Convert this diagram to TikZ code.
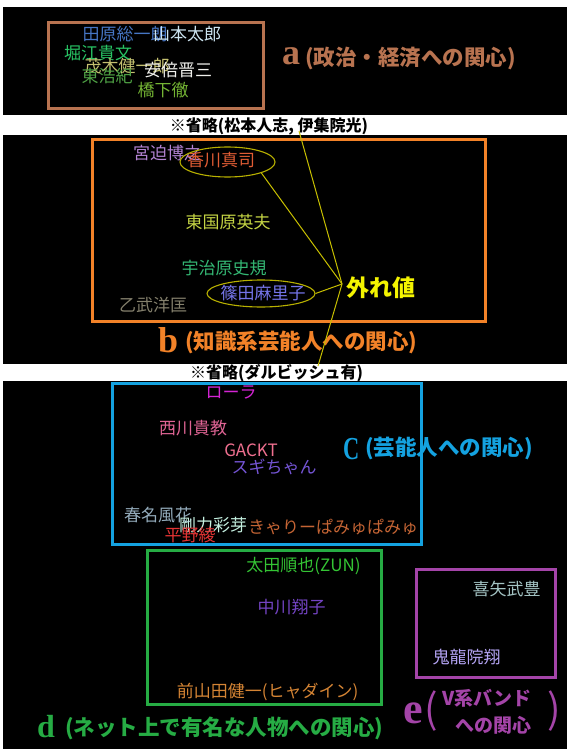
\documentclass[tikz,border=0pt]{standalone}
\usepackage{fontspec}
\newfontfamily\jp{Noto Sans CJK JP}
\newfontfamily\ser{Liberation Serif}
\usetikzlibrary{shapes.geometric}
\newcommand\myfs[1]{\fontsize{#1}{#1}\selectfont}
\definecolor{cA}{HTML}{B87350}
\definecolor{cB}{HTML}{F28228}
\definecolor{cC}{HTML}{14A2E0}
\definecolor{cD}{HTML}{26AC44}
\definecolor{cE}{HTML}{A444A8}
\definecolor{cLine}{HTML}{C8C000}
\definecolor{cEll}{HTML}{B8B000}
\definecolor{cOut}{HTML}{F4F400}
\definecolor{cTahara}{HTML}{4676C4}
\definecolor{cYama}{HTML}{CCE4F0}
\definecolor{cHorie}{HTML}{28C464}
\definecolor{cMogi}{HTML}{C4C070}
\definecolor{cAbe}{HTML}{F0F0EC}
\definecolor{cAzuma}{HTML}{4EA044}
\definecolor{cHashi}{HTML}{74B434}
\definecolor{cMiya}{HTML}{B484D4}
\definecolor{cKagawa}{HTML}{E05C34}
\definecolor{cHiga}{HTML}{C4D444}
\definecolor{cUji}{HTML}{34B874}
\definecolor{cShino}{HTML}{7474E8}
\definecolor{cOto}{HTML}{84806C}
\definecolor{cRola}{HTML}{D424D4}
\definecolor{cNishi}{HTML}{E06494}
\definecolor{cGackt}{HTML}{F07090}
\definecolor{cSugi}{HTML}{7454D4}
\definecolor{cHaruna}{HTML}{94ACBC}
\definecolor{cGoriki}{HTML}{C4F0E0}
\definecolor{cKyary}{HTML}{C46434}
\definecolor{cHirano}{HTML}{E43434}
\definecolor{cOta}{HTML}{34C434}
\definecolor{cNaka}{HTML}{7444C4}
\definecolor{cMae}{HTML}{D48434}
\definecolor{cKyan}{HTML}{A4C4C4}
\definecolor{cKiryu}{HTML}{B4A4F4}
\tikzset{
  nm/.style={inner sep=0pt, font=\jp\myfs{17}},
  lab/.style={inner sep=0pt, anchor=west, font=\jp\bfseries\myfs{21.5}},
  letr/.style={inner sep=0pt, anchor=base west, font=\ser\bfseries\myfs{36}},
  omit/.style={inner sep=0pt, text=black, font=\jp\bfseries\myfs{16}},
  ell/.style={draw=cEll, ellipse, line width=1.1pt, inner sep=0pt},
  conn/.style={draw=cLine, line width=1pt},
  grp/.style={line width=3pt}
}
\begin{document}
\begin{tikzpicture}[x=1pt,y=-1pt]
\useasboundingbox (0,0) rectangle (567,749);
\fill[white] (0,0) rectangle (567,749);
\fill[black] (3,7) rectangle (567,115);
\fill[black] (3,135) rectangle (567,364);
\fill[black] (3,381) rectangle (567,749);

% group a
\node[nm, text=cTahara] (tahara) at (125,34) {田原総一朗};
\node[nm, text=cYama] (yama) at (187,34) {山本太郎};
\node[nm, text=cHorie] (horie) at (98,53) {堀江貴文};
\node[nm, text=cMogi] (mogi) at (127,66) {茂木健一郎};
\node[nm, text=cAbe] (abe) at (178,70) {安倍晋三};
\node[nm, text=cAzuma] (azuma) at (107,76) {東浩紀};
\node[nm, text=cHashi] (hashi) at (163,90) {橋下徹};
\draw[grp, cA] (48,23) rectangle (263,109);
\node[letr, text=cA] (la) at (282,65) {a};
\node[lab, text=cA] (lat) at (305,58) {(政治・経済への関心)};

% omitted notes
\node[omit] (om1) at (269,126) {※省略(松本人志, 伊集院光)};
\node[omit] (om2) at (276.5,373) {※省略(ダルビッシュ有)};

% group b
\node[nm, text=cMiya] (miya) at (167,153) {宮迫博之};
\node[nm, text=cKagawa] (kagawa) at (221,160) {香川真司};
\node[ell, minimum width=95pt, minimum height=30pt] (kell) at (227.5,162) {};
\node[nm, text=cHiga] (higa) at (228,222) {東国原英夫};
\node[nm, text=cUji] (uji) at (224,268) {宇治原史規};
\node[nm, text=cShino] (shino) at (263,293) {篠田麻里子};
\node[ell, minimum width=108pt, minimum height=27pt] (sell) at (261,293.5) {};
\node[nm, text=cOto] (oto) at (153,305) {乙武洋匡};
\node[inner sep=0pt, text=cOut, font=\jp\bfseries\myfs{23}] (out) at (381,288) {外れ値};
\draw[grp, cB] (92,139) rectangle (485,321);
\node[letr, text=cB] (lb) at (158,352) {b};
\node[lab, text=cB] (lbt) at (185,342) {(知識系芸能人への関心)};

% connectors to outlier
\coordinate (hub) at (342,284);
\coordinate (om1p) at (299,131);
\coordinate (om2p) at (318,366);
\draw[conn] (om1p) -- (hub);
\draw[conn] (kell.-18) -- (hub);
\draw[conn] (sell.east) -- (hub);
\draw[conn] (hub) -- (om2p);

% group c
\node[nm, text=cRola] (rola) at (231,393) {ローラ};
\node[nm, text=cNishi] (nishi) at (193,428) {西川貴教};
\node[nm, text=cGackt] (gackt) at (251,450) {GACKT};
\node[nm, text=cSugi] (sugi) at (274,467) {スギちゃん};
\node[nm, text=cHaruna] (haruna) at (158,515) {春名風花};
\node[nm, text=cGoriki] (goriki) at (213,525) {剛力彩芽};
\node[nm, text=cKyary] (kyary) at (333,527) {きゃりーぱみゅぱみゅ};
\node[nm, text=cHirano] (hirano) at (190,535) {平野綾};
\node[letr, text=cC, font=\ser\bfseries\myfs{32}] (lc) at (343,459) {\scalebox{0.7}[1]{C}};
\node[lab, text=cC] (lct) at (365,448) {(芸能人への関心)};
\draw[grp, cC] (112,383) rectangle (421,544);

% group d
\node[nm, text=cOta] (ota) at (303.5,566) {太田順也(ZUN)};
\node[nm, text=cNaka] (naka) at (291.5,607) {中川翔子};
\node[nm, text=cMae] (mae) at (267.5,692) {前山田健一(ヒャダイン)};
\draw[grp, cD] (147,550) rectangle (381,704);
\node[letr, text=cD, font=\ser\bfseries\myfs{32}] (ld) at (37,737) {d};
\node[lab, text=cD] (ldt) at (65,728) {(ネット上で有名な人物への関心)};

% group e
\node[nm, text=cKyan] (kyan) at (506.5,589) {喜矢武豊};
\node[nm, text=cKiryu] (kiryu) at (466.5,657) {鬼龍院翔};
\draw[grp, cE] (416,569) rectangle (555,677);
\node[letr, text=cE, font=\ser\bfseries\myfs{44}] (le) at (403,723) {e};
\node[inner sep=0pt, text=cE, font=\jp\myfs{40}] (lep1) at (431,711) {(};
\node[lab, anchor=east, text=cE, font=\jp\bfseries\myfs{19}] (le1) at (532,698) {V系バンド};
\node[lab, anchor=east, text=cE, font=\jp\bfseries\myfs{19}] (le2) at (532,725) {への関心};
\node[inner sep=0pt, text=cE, font=\jp\myfs{40}] (lep2) at (554,711) {)};
\end{tikzpicture}
\end{document}
